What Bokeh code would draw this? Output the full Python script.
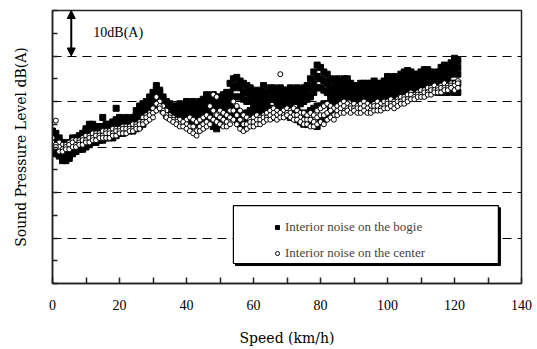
from bokeh.plotting import figure
from bokeh.models import (FixedTicker, Arrow, NormalHead, Label, Legend, LegendItem,
                          BoxAnnotation, Range1d)
from bokeh.embed import file_html
from bokeh.resources import INLINE

# ---------------- data ----------------
speed = [0, 1, 2, 3, 4, 5, 6, 7, 8, 9, 10, 11, 12, 13, 14, 15, 16, 17, 18, 19,
         20, 21, 22, 23, 24, 25, 26, 27, 28, 29, 30, 31, 32, 33, 34, 35, 36, 37, 38, 39,
         40, 41, 42, 43, 44, 45, 46, 47, 48, 49, 50, 51, 52, 53, 54, 55, 56, 57, 58, 59,
         60, 61, 62, 63, 64, 65, 66, 67, 68, 69, 70, 71, 72, 73, 74, 75, 76, 77, 78, 79,
         80, 81, 82, 83, 84, 85, 86, 87, 88, 89, 90, 91, 92, 93, 94, 95, 96, 97, 98, 99,
         100, 101, 102, 103, 104, 105, 106, 107, 108, 109, 110, 111, 112, 113, 114, 115,
         116, 117, 118, 119, 120, 121]

# interior noise on the bogie (several readings per speed)
bogie_1 = [73.5, 73, 72, 71, 70.5, 71, 72, 72, 72.5, 73, 74, 75, 75, 74.5, 74.5, 76.5, 75, 75, 75.5, 78.5,
           76.5, 76, 76.5, 76, 76.5, 78, 79, 79.5, 80, 81, 82, 83.5, 82.5, 81, 80, 79.5, 79, 79, 79.5, 79,
           80, 79.5, 80, 79.5, 80, 80.5, 81.5, 81, 81.5, 81, 81, 81.5, 82, 84, 85, 85.3, 84.5, 84, 83.5, 83,
           82.5, 82, 82.5, 83.5, 82, 83, 83, 82.5, 83, 82.5, 82.5, 83, 82.5, 83, 82.5, 83, 83.5, 85, 86.5, 88,
           87.5, 86.5, 86, 85, 84.5, 85, 84, 85, 85, 84, 83.5, 83.5, 84, 84, 84, 84, 84.5, 84, 84, 84.5,
           85.5, 85, 85.5, 85, 86, 86.5, 86.8, 86.5, 86, 86, 86.5, 87, 87, 86.5, 86, 86.5,
           87.5, 88, 87.5, 88.5, 89.5, 89]

bogie_2 = [72.5, 71.5, 71, 70, 69, 70.5, 70.5, 71.5, 71.5, 72, 73.5, 74, 73.5, 74, 73.5, 74.5, 74.5, 74.5, 75, 76,
           75.5, 75.5, 76, 75.5, 76, 77, 78, 78.5, 79, 80, 81, 82.5, 82, 80.5, 79, 79, 78, 78.5, 79, 78,
           79, 78.5, 79, 78.5, 79, 79.5, 80, 80, 80.5, 79.5, 80, 80, 81, 82, 83, 83.5, 83, 82, 82, 81.5,
           81, 81, 81.5, 82, 81, 82, 81.5, 81.5, 82, 81, 81.5, 82, 81, 81.5, 81, 81.5, 82, 83, 84, 85.5,
           85, 84.5, 84, 83, 83, 83.5, 83, 83.5, 84, 83, 83, 82.5, 83, 83, 82.5, 83, 83, 83, 83, 83.5,
           84, 84, 84.5, 84, 85, 85, 85.5, 85.5, 85, 85, 85.5, 86, 86, 85.5, 85.5, 85.5,
           86, 87, 86.5, 87, 88, 87.5]

bogie_3 = [71, 70.5, 69.5, 68.5, 68, 69, 70, 70.5, 70.5, 71, 72, 73, 73, 73, 73, 73.5, 73.5, 74, 74, 75,
           75, 75, 75, 75, 75.5, 76, 77, 77.5, 78, 79, 80, 81.5, 81, 79.5, 78.5, 78, 77.5, 77.5, 78, 77.5,
           78, 77.5, 78, 77.5, 78, 78.5, 79, 79, 79, 78.5, 78.5, 79, 79.5, 80.5, 81, 81, 81, 80.5, 80, 80,
           80, 79.5, 80, 80.5, 80, 80.5, 80.5, 80, 80.5, 80, 80.5, 80.5, 80, 80, 79.5, 80, 80.5, 81, 82, 83,
           83, 82.5, 82, 81.5, 81.5, 82, 81.5, 82, 82.5, 82, 82, 82, 82, 82, 81.5, 81.5, 82, 82, 82, 82,
           83, 83, 83, 83, 84, 84, 84.5, 84.5, 84, 84, 84.5, 85, 85, 84.5, 84.5, 84.5,
           85, 85.5, 85.5, 86, 86.5, 86]

bogie_4 = [69.5, 70, 68.5, 67.5, 68, 68, 69.5, 69.5, 70, 70.5, 71, 71.5, 72, 72, 72.5, 72.5, 72.5, 73, 73, 73.5,
           74, 74, 74, 74.5, 74.5, 75, 75.5, 76.5, 77, 78, 79, 80, 80, 79, 78, 77, 77, 76.5, 77, 76.5,
           76.5, 76, 76.5, 76, 77, 77.5, 78, 77.5, 76, 75.5, 76.5, 78, 78, 79, 78.5, 78, 77.5, 77, 77.5, 78,
           78.5, 78.5, 79, 79, 79, 78.5, 78, 78.5, 79, 78.5, 79, 78.5, 78, 78, 77.5, 77, 77.5, 78, 78.5, 79,
           79, 79.5, 79.5, 80, 80, 80.5, 80.5, 81, 81.5, 81.5, 81, 81, 81, 80.5, 80, 80.5, 80.5, 80.5, 81, 81,
           81.5, 81.5, 82, 82, 82.5, 83, 83, 83.5, 83, 83, 83.5, 84, 84, 83.5, 83.5, 83,
           83.5, 84, 84, 84, 84, 84]

bogie_5 = [69, 68.5, 68, 67, 67, 67.5, 68.5, 69, 69.5, 69.5, 70, 70.5, 71, 71, 71.5, 71.5, 72, 72, 72, 72.5,
           73, 73, 73.5, 73.5, 73.5, 74, 74.5, 75, 76, 77, 78, 79, 79, 78, 77, 76.5, 76, 76, 76.5, 76,
           75, 74.5, 75.5, 75, 76, 76.5, 77, 76.5, 74.5, 74, 75, 76.5, 77, 77, 76.5, 76, 75, 74, 75.5, 76,
           77.5, 77.5, 77.5, 78, 78, 77, 76.5, 77, 77.5, 77, 77, 76.5, 76.5, 76, 75.5, 75, 75, 75.5, 75, 74.5,
           75.5, 76, 77, 78, 78.5, 79, 79.5, 80, 81, 81, 80.5, 80, 80, 79.5, 79, 79, 79.5, 79, 79.5, 79.5,
           80, 80, 80.5, 81, 81.5, 81.5, 82, 82, 82, 82, 82.5, 82.5, 82.5, 82.5, 82.5, 82,
           82, 82, 82, 82.5, 82, 82]

# interior noise on the center
center_1 = [72, 75.8, 71, 70.5, 70.5, 71, 71.5, 71.5, 71.5, 72, 72.5, 72.5, 73, 73, 73, 73.5, 73.5, 73.5, 74, 74,
            74, 74.5, 74.5, 74.5, 75, 75, 75.5, 76.5, 77, 77.5, 78.5, 81, 80, 79, 78, 77, 76.5, 76, 76, 75,
            76, 76.5, 76, 75.5, 76, 76.5, 77, 79, 81.5, 81, 78, 77.5, 77, 78, 80, 79, 78, 77, 76.5, 76,
            76.5, 77, 76.5, 77, 77.5, 78, 78.5, 78, 86, 78, 78.5, 78, 78.5, 78, 77.5, 77.5, 77, 77.5, 77, 78,
            78.5, 79, 79.5, 79, 78.5, 79, 79.5, 80, 79.5, 79, 79.5, 79, 79.5, 80, 79.5, 79, 79.5, 80, 79.5, 80,
            80, 80.5, 80, 80.5, 81, 81, 81.5, 82, 81.5, 82, 82.5, 82.5, 83, 83, 83.5, 83,
            83.5, 84, 83.5, 84, 84, 84.5]

center_2 = [71, 70.5, 70, 69.5, 70, 70.5, 71, 70.5, 71, 71.5, 71.5, 72, 72, 72.5, 72.5, 72.5, 73, 73, 73, 73.5,
            73.5, 74, 74, 74, 74, 74.5, 75, 75.5, 76.5, 77, 77.5, 79.5, 79, 78, 77, 76.5, 76, 75.5, 75, 75.5,
            75, 74.5, 74.5, 73.5, 74.5, 75, 75.5, 76.5, 78, 77, 76.5, 76, 75.5, 76.5, 78, 77, 76, 75, 75, 75.5,
            75.5, 76, 76, 76.5, 76.5, 77, 77.5, 77, 77.5, 77, 77.5, 77.5, 77, 77, 76.5, 76, 76, 76, 75.5, 76.5,
            77, 77, 77.5, 78, 77, 78, 78.5, 79, 78.5, 78.5, 78.5, 78.5, 78.5, 79, 78.5, 78, 79, 79, 78.5, 79,
            79.5, 79.5, 79.5, 80, 80, 80.5, 80.5, 81.5, 81, 81.5, 81.5, 82, 82, 82.5, 82.5, 82.5,
            83, 83, 83, 83.5, 83.5, 84]

center_3 = [70, 70, 69, 69, 69.5, 69.5, 70, 70, 70.5, 70.5, 71, 71, 71.5, 71.5, 72, 72, 72, 72, 72.5, 72.5,
            73, 73, 73, 73.5, 73.5, 74, 74, 75, 75.5, 76, 76.5, 78, 78.5, 77.5, 76.5, 76, 75.5, 75, 74.5, 74.5,
            74, 73.5, 73, 72.5, 73.5, 74, 74.5, 75, 76, 75.5, 75, 74.5, 74.5, 75, 76, 75, 74, 73.5, 74, 74.5,
            74.5, 75, 75, 75.5, 76, 76, 76.5, 76, 76.5, 76.5, 77, 76.5, 76, 76, 75.5, 75, 75, 74.5, 74.5, 75,
            75.5, 75, 76, 76.5, 76, 77, 77.5, 77.5, 78, 77.5, 78, 77.5, 77.5, 78, 77.5, 77.5, 78, 78, 78, 78.5,
            78.5, 79, 78.5, 79, 79.5, 79.5, 80, 80.5, 80.5, 81, 81, 81, 81.5, 81.5, 82, 82,
            82, 82.5, 82.5, 83, 82.5, 83]

x_ticks = [0, 20, 40, 60, 80, 100, 120, 140]
x_minor = [10, 30, 50, 70, 90, 110, 130]
y_ticks = [40, 45, 50, 55, 60, 65, 70, 75, 80, 85, 90, 95, 100]
y_grid = [50, 60, 70, 80, 90]

SERIF = "Liberation Serif"
AXC = "#222222"

p = figure(width=537, height=349, x_range=Range1d(0, 140), y_range=Range1d(40, 100),
           output_backend="svg", toolbar_location=None,
           min_border_left=52, min_border_right=16, min_border_top=10, min_border_bottom=66)
p.background_fill_color = "white"
p.border_fill_color = "white"
p.outline_line_color = AXC
p.outline_line_width = 1.5
p.outline_line_alpha = 1

# data
b_kw = dict(marker="square", size=6, fill_color="black", line_color="black")
rb = p.scatter(speed, bogie_1, **b_kw)
for ys in (bogie_2, bogie_3, bogie_4, bogie_5):
    p.scatter(speed, ys, **b_kw)
c_kw = dict(marker="circle", size=5, fill_color="white", line_color="black", line_width=1)
rc = p.scatter(speed, center_1, **c_kw)
for ys in (center_2, center_3):
    p.scatter(speed, ys, **c_kw)

# axes
p.xaxis.ticker = FixedTicker(ticks=x_ticks, minor_ticks=x_minor)
p.xaxis.major_tick_in = 6
p.xaxis.major_tick_out = 0
p.xaxis.minor_tick_in = 6
p.xaxis.minor_tick_out = 0
p.xaxis.major_label_standoff = 16
p.xaxis.axis_label = "Speed (km/h)"
p.xaxis.axis_label_standoff = 17

p.yaxis.ticker = FixedTicker(ticks=y_ticks)
p.yaxis.major_tick_in = 5
p.yaxis.major_tick_out = 0
p.yaxis.major_label_overrides = {t: "" for t in y_ticks}
p.yaxis.major_label_standoff = 0
p.yaxis.axis_label = "Sound Pressure Level dB(A)"
p.yaxis.axis_label_standoff = 24

for ax in (p.xaxis[0], p.yaxis[0]):
    ax.axis_line_color = AXC
    ax.axis_line_width = 1.5
    ax.major_tick_line_color = AXC
    ax.major_tick_line_width = 1.5
    ax.minor_tick_line_width = 1.5
    ax.major_label_text_font = SERIF
    ax.major_label_text_font_size = "14px"
    ax.major_label_text_color = "black"
    ax.axis_label_text_font = "DejaVu Serif"
    ax.axis_label_text_font_size = "14px"
    ax.axis_label_text_font_style = "normal"
    ax.axis_label_text_color = "black"
p.xaxis.minor_tick_line_color = AXC
p.yaxis.minor_tick_line_color = None

p.xgrid.visible = False
p.ygrid.ticker = FixedTicker(ticks=y_grid)
p.ygrid.grid_line_color = "black"
p.ygrid.grid_line_width = 1
p.ygrid.grid_line_dash = "9 6"

# 10 dB(A) scale arrow
p.add_layout(Arrow(x_start=5.6, y_start=90, x_end=5.6, y_end=100, line_width=2, line_color="black",
                   start=NormalHead(size=8, fill_color="black", line_color="black"),
                   end=NormalHead(size=8, fill_color="black", line_color="black")))
p.add_layout(Label(x=12.2, y=95.2, text="10dB(A)", text_font=SERIF, text_font_size="14px",
                   text_baseline="middle", text_color="black"))

# legend box with shadow
p.add_layout(BoxAnnotation(left=54.6, right=133.7, bottom=43.95, top=56.65, fill_color="black",
                           fill_alpha=1, line_color="black", line_alpha=1))
p.add_layout(BoxAnnotation(left=54.0, right=133.1, bottom=44.4, top=57.1, fill_color="white",
                           fill_alpha=1, line_color="black", line_width=1.2, line_alpha=1))

legend = Legend(items=[LegendItem(label="Interior noise on the bogie", renderers=[rb]),
                       LegendItem(label="Interior noise on the center", renderers=[rc])],
                location=(220, 20), border_line_color=None, background_fill_alpha=0,
                padding=5, spacing=6, glyph_width=10, glyph_height=20, label_height=20,
                label_standoff=3, label_text_font=SERIF, label_text_font_size="13px",
                margin=0)
p.add_layout(legend)

open("out.html", "w").write(file_html(p, INLINE))
